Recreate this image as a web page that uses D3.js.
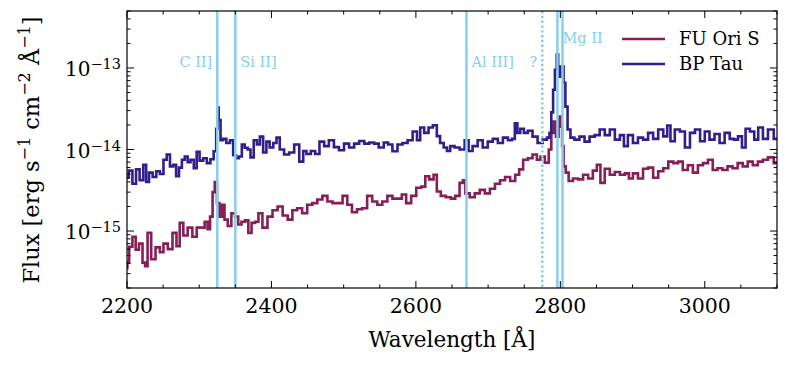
<!DOCTYPE html>
<html>
<head>
<meta charset="utf-8">
<script src="https://cdn.jsdelivr.net/npm/d3@7"></script>
<style>
  body { margin: 0; background: #fff; }
</style>
</head>
<body>
<svg id="grafico" width="788" height="366"></svg>
<script>
// flux in units of 1e-15 erg/s/cm2/A
let fuWave = [2200, 2201, 2205, 2210, 2214, 2219, 2224, 2226, 2231, 2236, 2243, 2248, 2253, 2260, 2266, 2271, 2275, 2281, 2287, 2294,
  2299, 2305, 2310, 2313, 2317, 2320, 2323, 2326, 2330, 2333, 2337, 2342, 2347, 2352, 2356, 2361, 2366, 2370, 2375, 2380,
  2384, 2391, 2398, 2405, 2412, 2419, 2426, 2432, 2439, 2446, 2453, 2460, 2467, 2474, 2481, 2488, 2495, 2502, 2508, 2515,
  2522, 2529, 2536, 2543, 2550, 2557, 2564, 2571, 2578, 2583, 2590, 2597, 2604, 2611, 2615, 2622, 2627, 2631, 2638, 2645,
  2652, 2657, 2664, 2666, 2671, 2678, 2685, 2692, 2699, 2706, 2713, 2720, 2727, 2734, 2741, 2745, 2752, 2758, 2765, 2770,
  2775, 2782, 2786, 2789, 2792, 2796, 2799, 2802, 2803, 2806, 2809, 2814, 2821, 2828, 2835, 2842, 2848, 2853, 2858, 2865,
  2872, 2879, 2886, 2893, 2897, 2904, 2911, 2918, 2925, 2932, 2939, 2946, 2953, 2960, 2966, 2973, 2980, 2987, 2994, 3001,
  3008, 3014, 3021, 3028, 3035, 3042, 3049, 3056, 3063, 3070, 3077, 3084, 3091, 3100];
let fuFlux = [0.35, 0.41, 0.64, 0.85, 0.59, 0.7, 0.41, 0.37, 0.95, 0.45, 0.63, 0.55, 0.7, 0.6, 0.95, 0.65, 1.26, 0.88, 1.1, 0.85,
  1.1, 1.1, 1.3, 1.05, 1.5, 3.0, 4.0, 2.2, 1.5, 2.1, 1.38, 1.15, 1.65, 1.5, 1.2, 1.3, 1.35, 0.95, 1.26, 1.3,
  1.65, 1.1, 1.5, 1.8, 2.0, 1.55, 1.38, 1.8, 1.9, 1.65, 2.1, 2.2, 2.44, 2.7, 2.3, 2.2, 2.2, 2.7, 2.1, 1.7,
  1.85, 1.9, 2.7, 2.3, 2.1, 2.3, 2.7, 2.5, 2.5, 2.8, 2.2, 2.7, 3.4, 3.5, 4.7, 4.3, 4.9, 3.05, 2.7, 2.6,
  2.5, 2.7, 3.9, 4.2, 2.9, 2.6, 2.9, 3.2, 2.9, 3.3, 3.8, 4.2, 4.6, 4.1, 4.9, 5.7, 7.5, 7.8, 8.7, 7.5,
  8.2, 6.9, 10, 16, 22, 14.4, 25.4, 19, 11, 6.2, 5.2, 4.1, 4.4, 4.3, 4.9, 4.4, 5.5, 6.5, 3.9, 5.8,
  4.9, 5.3, 4.9, 5.1, 4.4, 5.1, 4.4, 5.8, 6.0, 4.5, 5.4, 5.9, 7.1, 6.8, 7.1, 5.6, 6.4, 5.2, 6.4, 6.8,
  7.5, 5.6, 5.9, 5.6, 6.2, 5.9, 6.8, 6.2, 7.1, 6.4, 7.1, 7.5, 8, 6.8];

let bpWave = [2200, 2205, 2210, 2215, 2220, 2225, 2228, 2233, 2238, 2243, 2248, 2253, 2257, 2262, 2266, 2270, 2274, 2278, 2282, 2286,
  2290, 2295, 2298, 2303, 2308, 2313, 2318, 2322, 2325, 2326, 2328, 2331, 2335, 2340, 2345, 2349, 2353, 2357, 2361, 2365,
  2369, 2373, 2378, 2382, 2386, 2391, 2395, 2400, 2405, 2409, 2414, 2421, 2428, 2435, 2442, 2446, 2451, 2458, 2463, 2470,
  2476, 2483, 2490, 2497, 2504, 2511, 2518, 2525, 2532, 2539, 2545, 2552, 2559, 2564, 2571, 2578, 2585, 2592, 2599, 2604,
  2608, 2615, 2620, 2627, 2631, 2636, 2641, 2645, 2650, 2657, 2664, 2671, 2675, 2682, 2689, 2696, 2703, 2710, 2717, 2724,
  2731, 2735, 2739, 2742, 2747, 2752, 2758, 2765, 2772, 2779, 2784, 2786, 2789, 2791, 2794, 2796, 2798, 2800, 2803, 2806,
  2808, 2812, 2816, 2823, 2830, 2837, 2844, 2851, 2858, 2865, 2872, 2879, 2886, 2890, 2897, 2904, 2911, 2918, 2925, 2932,
  2939, 2946, 2950, 2955, 2962, 2969, 2976, 2983, 2990, 2997, 3003, 3010, 3017, 3024, 3031, 3038, 3043, 3049, 3054, 3059,
  3066, 3071, 3077, 3084, 3091, 3100];
let bpFlux = [4.5, 5.5, 3.8, 5.7, 4.2, 6.5, 4.0, 5.2, 4.6, 5.4, 5.0, 7.5, 8.7, 6.2, 6.5, 4.7, 6.0, 7.5, 8.2, 7.0,
  7.5, 5.9, 9.4, 7.3, 7.8, 6.8, 7.6, 9.5, 18, 32.7, 23, 13, 13.5, 12, 13, 8.5, 7.8, 8.2, 11.5, 10.5,
  10, 8, 13, 11.5, 14.4, 9.2, 12.5, 10.6, 12, 14, 10, 8.7, 9.2, 11.5, 7.1, 9.6, 8.8, 9.6, 8.8, 12.5,
  11, 13, 10.7, 9.8, 11.8, 10.6, 11.8, 12.7, 11.8, 12.2, 11.8, 10.6, 12.2, 11.5, 9.5, 11.5, 12, 13, 16.6, 13,
  18.6, 16, 18.6, 19.8, 14.6, 12, 10.6, 9.6, 11, 10.6, 10, 13, 9.6, 11, 13, 10.6, 12.5, 13.5, 12, 14,
  13, 13.5, 21, 16, 18, 16, 17, 14.4, 12, 13.2, 14, 16, 28.5, 54, 95, 146, 104, 78, 104, 66,
  33.6, 17.6, 14, 13.2, 14.4, 12.5, 14.4, 15, 17.6, 15, 17.6, 13.2, 15, 11, 15, 12, 14, 13.2, 16, 13.5,
  17.6, 14.5, 19.7, 12.6, 17.6, 16.6, 10.6, 16, 17.6, 12.6, 16.6, 13.2, 15.5, 12, 16, 13.5, 13.2, 14.5, 10.6, 18,
  16.6, 13.2, 18.6, 13.5, 17.6, 13.5];

// emission lines
let linhaNomes = ['C II]', 'Si II]', 'Al III]', '?', 'Mg II', ''];
let linhaOndas = [2325, 2350, 2670, 2775, 2796, 2803];

let xTicks = [2200, 2400, 2600, 2800, 3000];
let yTicks = [-15, -14, -13];

let series = [
  {nome: 'FU Ori S', wave: fuWave, flux: fuFlux, cor: '#861f56'},
  {nome: 'BP Tau', wave: bpWave, flux: bpFlux, cor: '#2f1f8a'}
];

let svg = d3.select('#grafico');
let fonte = "DejaVu Serif";
let esq = 127, dir = 777, topo = 11, base = 288;

let fnx = d3.scaleLinear().domain([2200, 3100]).range([esq, dir]);
let fny = d3.scaleLog().domain([2e-16, 5e-13]).range([base, topo]);

svg.append('clipPath').attr('id', 'clip')
  .append('rect').attr('x', esq).attr('y', topo).attr('width', dir - esq).attr('height', base - topo);

let plot = svg.append('g').attr('clip-path', 'url(#clip)');

let linha = d3.line()
  .x(d => fnx(d[0]))
  .y(d => fny(d[1] * 1e-15))
  .curve(d3.curveStep);

series.forEach(s => {
  plot.append('path')
    .datum(s.wave.map((w, i) => [w, s.flux[i]]))
    .attr('d', linha)
    .attr('fill', 'none')
    .attr('stroke', s.cor)
    .attr('stroke-width', 2.6);
});

// vertical line markers
plot.selectAll('.marca')
  .data(linhaOndas)
  .join('line')
  .attr('class', 'marca')
  .attr('x1', d => fnx(d)).attr('x2', d => fnx(d))
  .attr('y1', topo).attr('y2', base)
  .attr('stroke', '#87ceeb')
  .attr('stroke-width', 2.5)
  .attr('stroke-dasharray', (d, i) => linhaNomes[i] === '?' ? '2.4,2.4' : null);

// labels next to the lines
let rotPos = [
  {anchor: 'end', dx: -5, y: 67},
  {anchor: 'start', dx: 5, y: 67},
  {anchor: 'start', dx: 5, y: 67},
  {anchor: 'end', dx: -5, y: 67},
  {anchor: 'start', dx: 5, y: 43},
  {anchor: 'start', dx: 0, y: 0}
];
svg.selectAll('.rotulo')
  .data(linhaOndas)
  .join('text')
  .attr('class', 'rotulo')
  .attr('x', (d, i) => fnx(d) + rotPos[i].dx)
  .attr('y', (d, i) => rotPos[i].y)
  .attr('text-anchor', (d, i) => rotPos[i].anchor)
  .attr('fill', '#87ceeb')
  .attr('font-family', fonte)
  .attr('font-size', 14.5)
  .text((d, i) => linhaNomes[i]);

// frame
svg.append('rect')
  .attr('x', esq).attr('y', topo).attr('width', dir - esq).attr('height', base - topo)
  .attr('fill', 'none').attr('stroke', '#000').attr('stroke-width', 1.2);

// ticks pointing inward on all four sides
let xMinor = d3.range(2200, 3101, 50);
let eixos = svg.append('g').attr('stroke', '#000').attr('stroke-width', 1);
xMinor.forEach(v => {
  let len = v % 200 === 0 ? 7 : 3.5;
  eixos.append('line').attr('x1', fnx(v)).attr('x2', fnx(v)).attr('y1', base).attr('y2', base - len);
  eixos.append('line').attr('x1', fnx(v)).attr('x2', fnx(v)).attr('y1', topo).attr('y2', topo + len);
});
fny.ticks().forEach(v => {
  let lg = Math.log10(v);
  let len = Math.abs(lg - Math.round(lg)) < 1e-6 ? 7 : 3.5;
  eixos.append('line').attr('y1', fny(v)).attr('y2', fny(v)).attr('x1', esq).attr('x2', esq + len);
  eixos.append('line').attr('y1', fny(v)).attr('y2', fny(v)).attr('x1', dir).attr('x2', dir - len);
});

svg.selectAll('.xlab')
  .data(xTicks)
  .join('text')
  .attr('class', 'xlab')
  .attr('x', d => fnx(d))
  .attr('y', 313)
  .attr('text-anchor', 'middle')
  .attr('font-family', fonte)
  .attr('font-size', 20.5)
  .text(d => d);

let ylab = svg.selectAll('.ylab')
  .data(yTicks)
  .join('text')
  .attr('class', 'ylab')
  .attr('x', esq - 6)
  .attr('y', d => fny(Math.pow(10, d)) + 8)
  .attr('text-anchor', 'end')
  .attr('font-family', fonte)
  .attr('font-size', 20);
ylab.append('tspan').text('10');
ylab.append('tspan').attr('font-size', 14.5).attr('dy', -7).text(d => '\u2212' + Math.abs(d));

svg.append('text')
  .attr('x', fnx(2650))
  .attr('y', 347)
  .attr('text-anchor', 'middle')
  .attr('font-family', fonte)
  .attr('font-size', 21.5)
  .text('Wavelength [Å]');

let yt = svg.append('text')
  .attr('transform', 'translate(39,150) rotate(-90)')
  .attr('text-anchor', 'middle')
  .attr('font-family', fonte)
  .attr('font-size', 22.5);
yt.append('tspan').text('Flux [erg s');
yt.append('tspan').attr('font-size', 16).attr('dy', -9).text('\u22121');
yt.append('tspan').attr('dy', 9).text(' cm');
yt.append('tspan').attr('font-size', 16).attr('dy', -9).text('\u22122');
yt.append('tspan').attr('dy', 9).text(' Å');
yt.append('tspan').attr('font-size', 16).attr('dy', -9).text('\u22121');
yt.append('tspan').attr('dy', 9).text(']');

// legend
let leg = svg.append('g');
series.forEach((s, i) => {
  let y = 39 + i * 25;
  leg.append('line').attr('x1', 622).attr('x2', 665).attr('y1', y).attr('y2', y)
    .attr('stroke', s.cor).attr('stroke-width', 2.6);
  leg.append('text').attr('x', 679).attr('y', y + 6)
    .attr('font-family', fonte).attr('font-size', 18).text(s.nome);
});
</script>
</body>
</html>
